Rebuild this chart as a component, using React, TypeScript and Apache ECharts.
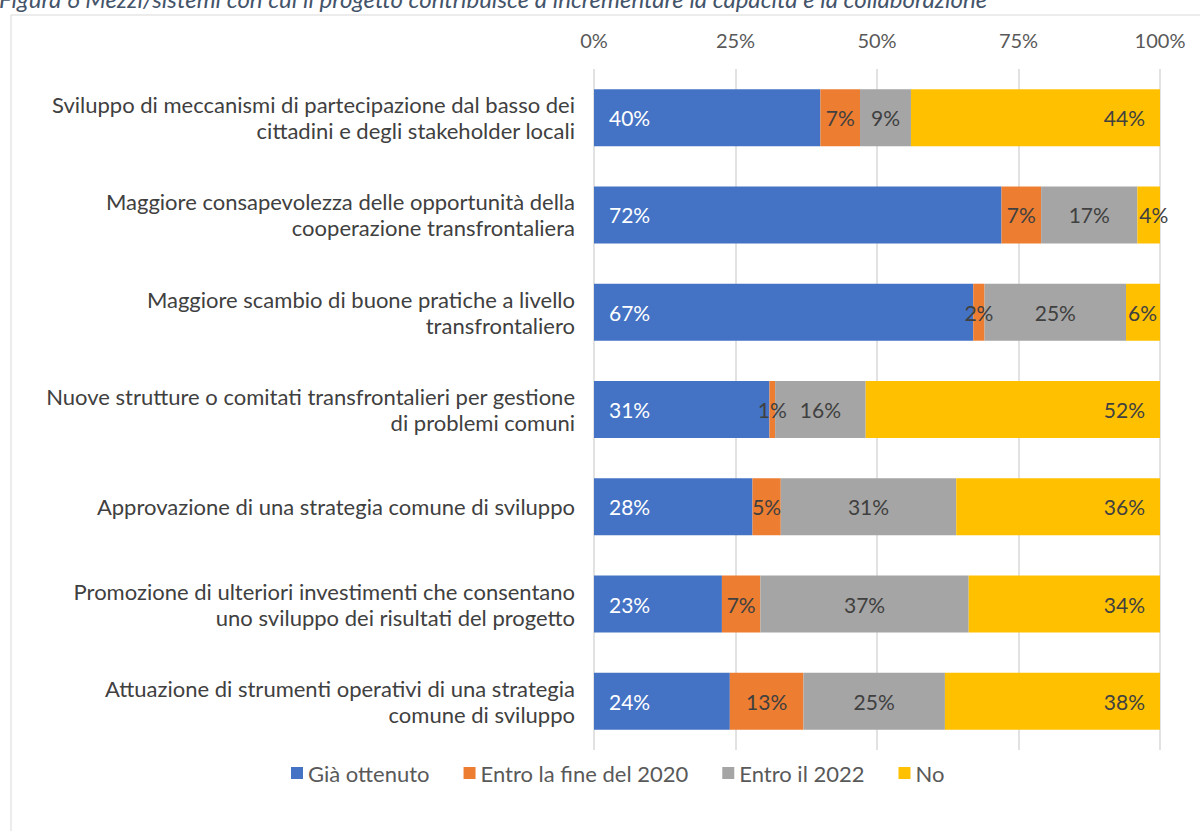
import React, { useEffect, useRef } from "react";
import * as echarts from "echarts";

const categories = [
  "Sviluppo di meccanismi di partecipazione dal basso dei\ncittadini e degli stakeholder locali",
  "Maggiore consapevolezza delle opportunità della\ncooperazione transfrontaliera",
  "Maggiore scambio di buone pratiche a livello\ntransfrontaliero",
  "Nuove strutture o comitati transfrontalieri per gestione\ndi problemi comuni",
  "Approvazione di una strategia comune di sviluppo",
  "Promozione di ulteriori investimenti che consentano\nuno sviluppo dei risultati del progetto",
  "Attuazione di strumenti operativi di una strategia\ncomune di sviluppo",
];

const seriesNames = ["Già ottenuto", "Entro la fine del 2020", "Entro il 2022", "No"];
const giaOttenuto = [40, 72, 67, 31, 28, 22.6, 24];
const entro2020 = [7, 7, 2, 1, 5, 6.8, 13];
const entro2022 = [9, 17, 25, 16, 31, 36.8, 25];
const no = [44, 4, 6, 52, 36, 33.8, 38];
const tickValues = [0, 25, 50, 75, 100];

const colors = ["#4472C4", "#ED7D31", "#A5A5A5", "#FFC000"];
const titleText =
  "Figura 6 Mezzi/sistemi con cui il progetto contribuisce a incrementare la capacità e la collaborazione";

const FONT = "Lato, 'Open Sans', sans-serif";

export default function App() {
  const ref = useRef<HTMLDivElement>(null);
  useEffect(() => {
    document.body.style.margin = "0";
    if (!ref.current) return;
    const chart = echarts.init(ref.current, undefined, { renderer: "svg" });
    const allData = [giaOttenuto, entro2020, entro2022, no];
    const positions = ["insideLeft", "inside", "inside", "insideRight"];
    chart.setOption({
      animation: false,
      textStyle: { fontFamily: FONT },
      graphic: [
        {
          type: "rect",
          shape: { x: 11, y: 15, width: 1300, height: 1000 },
          style: { fill: "none", stroke: "#d9d9d9", lineWidth: 1 },
          z: -10,
        },
        {
          type: "text",
          x: -1,
          y: 10,
          style: {
            text: titleText,
            fontFamily: FONT,
            fontStyle: "italic",
            fontSize: 24,
            fill: "#44546A",
            textVerticalAlign: "bottom",
          },
        },
      ],
      legend: {
        data: seriesNames,
        left: 286,
        top: 757,
        itemWidth: 12,
        itemHeight: 12,
        itemGap: 34,
        icon: "rect",
        textStyle: { fontSize: 22, color: "#595959", fontFamily: FONT },
      },
      grid: { left: 594, right: 40, top: 69, bottom: 81, containLabel: false },
      xAxis: {
        type: "value",
        position: "top",
        min: 0,
        max: 100,
        interval: 25,
        axisLabel: {
          formatter: (v: number) => (tickValues.includes(v) ? v + "%" : ""),
          fontSize: 20,
          color: "#595959",
          margin: 19,
        },
        axisLine: { show: false },
        axisTick: { show: false },
        splitLine: { show: true, lineStyle: { color: "#d9d9d9", width: 1.5 } },
      },
      yAxis: {
        type: "category",
        data: categories,
        inverse: true,
        axisLine: { show: false },
        axisTick: { show: false },
        axisLabel: {
          fontSize: 22,
          color: "#404040",
          lineHeight: 26,
          margin: 19,
          align: "right",
        },
      },
      series: seriesNames.map((name, i) => ({
        name,
        type: "bar",
        stack: "total",
        barWidth: 57,
        data: allData[i].map((v) =>
          i === 3 && v < 8
            ? { value: v, label: { position: "insideLeft", distance: 2 } }
            : v
        ),
        itemStyle: { color: colors[i] },
        label: {
          show: true,
          position: positions[i],
          distance: 15,
          formatter: (p: any) => Math.round(p.value) + "%",
          fontSize: 21,
          color: i === 0 ? "#ffffff" : "#404040",
          fontFamily: FONT,
        },
      })),
    });
    return () => chart.dispose();
  }, []);
  return <div ref={ref} style={{ width: 1200, height: 831 }} />;
}
